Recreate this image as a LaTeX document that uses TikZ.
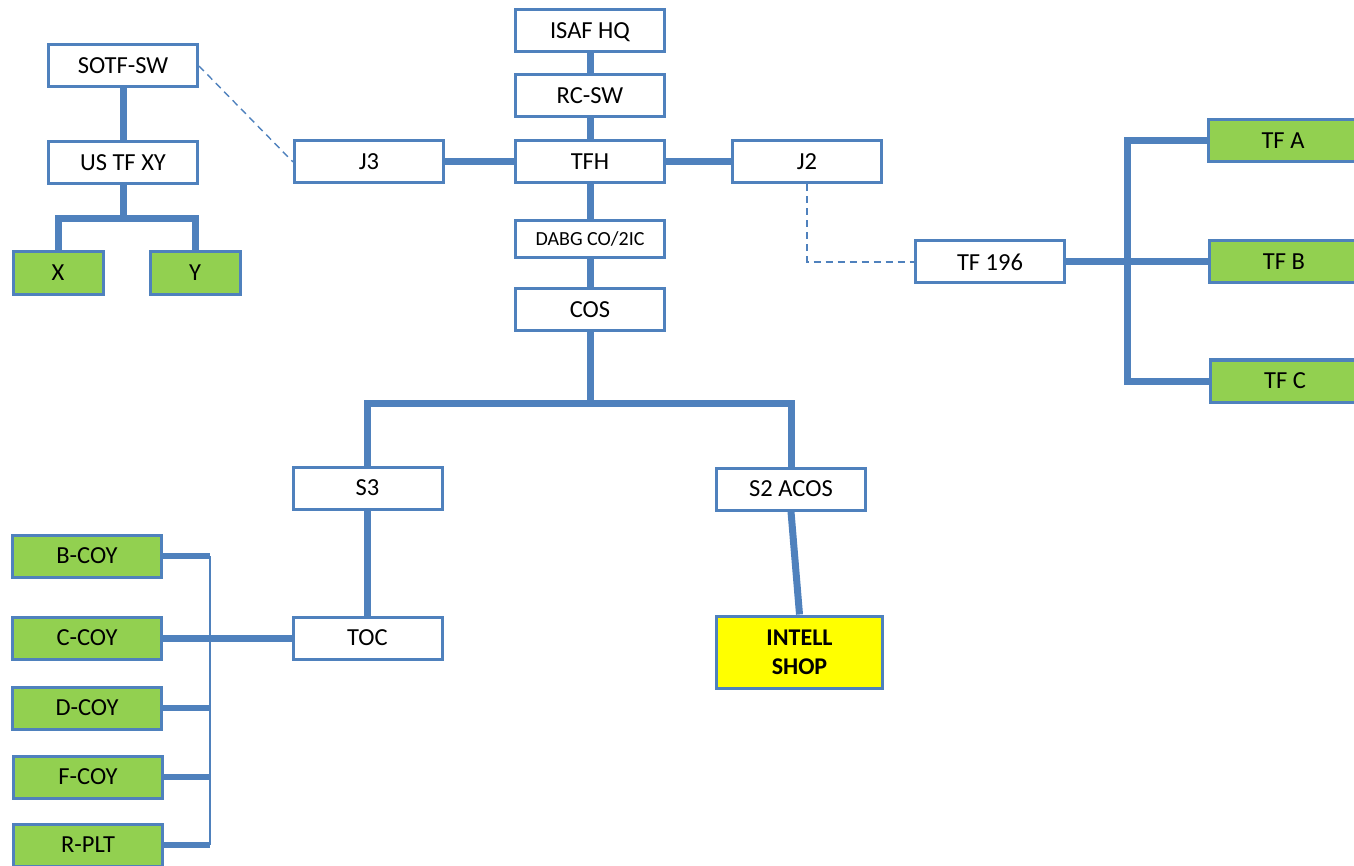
\documentclass[tikz,border=0pt]{standalone}
\usepackage{fontspec}
\setmainfont{Carlito}
\usetikzlibrary{backgrounds}
\definecolor{lineblue}{HTML}{4F81BD}
\definecolor{unitgreen}{HTML}{92D050}
\definecolor{shopyellow}{HTML}{FFFF00}
\tikzset{
  box/.style={draw=lineblue, line width=3pt, fill=white, minimum width=149pt,
    minimum height=42pt, inner sep=0pt, text depth=0pt,
    font=\fontsize{24.5}{28}\selectfont},
  unit/.style={box, fill=unitgreen},
  small/.style={box, minimum height=37pt, font=\fontsize{20}{24}\selectfont},
  shop/.style={box, fill=shopyellow, minimum width=166pt, minimum height=72pt,
    align=center, font=\fontsize{24}{29.5}\selectfont\bfseries},
  conn/.style={draw=lineblue, line width=7pt},
  stub/.style={draw=lineblue, line width=6pt},
  fine/.style={draw=lineblue, line width=1.4pt},
  liaison/.style={draw=lineblue, line width=1.4pt, dash pattern=on 7pt off 5pt}
}
\begin{document}
\begin{tikzpicture}[x=1pt, y=-1pt]
\useasboundingbox (0,0) rectangle (1354,866);

\coordinate (xyjoin) at (123,219);
\coordinate (tfbus) at (1127,262);
\coordinate (cosjoin) at (590,403);
\coordinate (cbus) at (210,700);

% command chain
\node[box] (isaf) at (590,31) {ISAF HQ};
\node[box] (rcsw) at (590,96) {RC-SW};
\node[box] (tfh) at (590,162) {TFH};
\node[small] (dabg) at (590,239) {DABG CO/2IC};
\node[box] (cos) at (590,310) {COS};
\node[box] (j3) at (369,162) {J3};
\node[box] (j2) at (807,162) {J2};

% special forces branch
\node[box] (sotf) at (123,66) {SOTF-SW};
\node[box] (ustf) at (123,163) {US TF XY};
\node[unit, minimum width=90pt, minimum height=43pt] (ux) at (58,273) {X};
\node[unit, minimum width=90pt, minimum height=43pt] (uy) at (195,273) {Y};

% task force branch
\node[box] (tf196) at (990,262) {TF 196};
\node[unit] (tfa) at (1283,141) {TF A};
\node[unit] (tfb) at (1284,262) {TF B};
\node[unit] (tfc) at (1285,381) {TF C};

% staff branch
\node[box] (s3) at (367.5,488) {S3};
\node[box] (s2) at (791,489) {S2 ACOS};
\node[box] (toc) at (367.5,638) {TOC};
\node[shop] (intell) at (799.5,652) {INTELL\\SHOP};

% companies
\node[unit] (bcoy) at (87,556) {B-COY};
\node[unit] (ccoy) at (87,638) {C-COY};
\node[unit] (dcoy) at (87,708) {D-COY};
\node[unit] (fcoy) at (88,777) {F-COY};
\node[unit] (rplt) at (88,845) {R-PLT};

% connectors, kept behind the boxes
\begin{scope}[on background layer]
\draw[conn] (isaf) -- (rcsw) -- (tfh) -- (dabg) -- (cos);
\draw[conn] (j3) -- (tfh) -- (j2);

\draw[conn] (sotf) -- (ustf) -- (xyjoin);
\draw[conn] (ux.north) |- (xyjoin) -| (uy.north);
\draw[liaison] (sotf.east) -- (j3.west);

\draw[liaison] (j2.south) |- (tf196.west);
\draw[conn] (tf196) -- (tfb);
\draw[conn] (tfa.west) -| (tfbus) |- (tfc.west);

\draw[conn] (cos) -- (cosjoin);
\draw[conn] (s3.north) |- (cosjoin) -| (s2.north);
\draw[conn] (s3) -- (toc);
\draw[conn] (s2.south) -- (intell.north);

\draw[conn] (toc.west) -- (ccoy.east);
\draw[stub] (bcoy.east) -- (bcoy.east -| cbus);
\draw[stub] (dcoy.east) -- (dcoy.east -| cbus);
\draw[stub] (fcoy.east) -- (fcoy.east -| cbus);
\draw[stub] (rplt.east) -- (rplt.east -| cbus);
\draw[fine] (bcoy.east -| cbus) -- (rplt.east -| cbus);
\end{scope}
\end{tikzpicture}
\end{document}
